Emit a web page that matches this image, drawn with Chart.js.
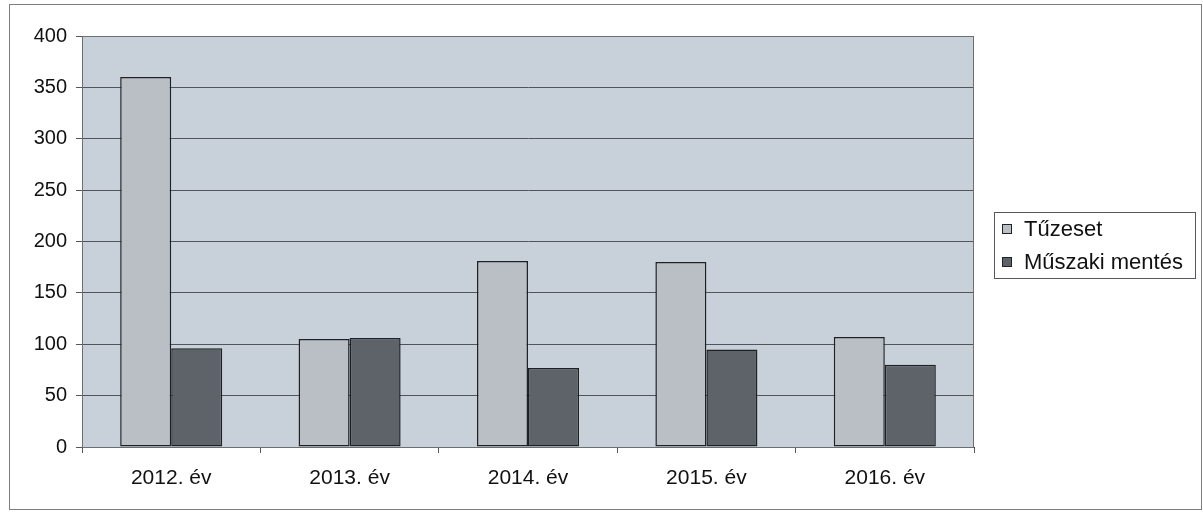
<!DOCTYPE html>
<html>
<head>
<meta charset="utf-8">
<script src="https://cdn.jsdelivr.net/npm/chart.js@4.4.1/dist/chart.umd.min.js"></script>
<style>
  html, body { margin: 0; padding: 0; background: #ffffff; }
  #wrap { position: relative; width: 1203px; height: 513px; }
  canvas { display: block; }
</style>
</head>
<body>
<div id="wrap"><canvas id="c" width="1203" height="513"></canvas></div>
<script>
const categories = ["2012. év", "2013. év", "2014. év", "2015. év", "2016. év"];
const tuzeset = [360, 105, 181, 180, 107];
const muszakiMentes = [96, 106, 77, 95, 80];
const seriesNames = ["Tűzeset", "Műszaki mentés"];
const seriesColors = ["#b9bfc4", "#5d6368"];
const yTicks = [0, 50, 100, 150, 200, 250, 300, 350, 400];

const FONT = "'Liberation Sans', Arial, sans-serif";

const decor = {
  id: 'decor',
  beforeDraw(chart) {
    const ctx = chart.ctx, a = chart.chartArea;
    ctx.save();
    ctx.fillStyle = '#ffffff';
    ctx.fillRect(0, 0, chart.width, chart.height);
    ctx.fillStyle = '#c8d0d9';
    ctx.fillRect(a.left, a.top, a.right - a.left, a.bottom - a.top);
    ctx.restore();
  },
  afterDraw(chart) {
    const ctx = chart.ctx, a = chart.chartArea;
    ctx.save();
    ctx.strokeStyle = '#6a6f74';
    ctx.lineWidth = 1;
    ctx.strokeRect(a.left + 0.5, a.top + 0.5, a.right - a.left - 1, a.bottom - a.top);
    ctx.strokeStyle = '#7a7e82';
    ctx.strokeRect(9.5, 4.5, 1192, 505);
    const lx = 994, ly = 212, lw = 201, lh = 66;
    ctx.fillStyle = '#ffffff';
    ctx.fillRect(lx, ly, lw, lh);
    ctx.strokeStyle = '#55595d';
    ctx.strokeRect(lx + 0.5, ly + 0.5, lw, lh);
    ctx.font = '22px ' + FONT;
    ctx.textBaseline = 'middle';
    ctx.textAlign = 'left';
    const rows = [229, 262];
    chart.data.datasets.forEach((ds, i) => {
      const y = rows[i];
      ctx.fillStyle = ds.backgroundColor;
      ctx.fillRect(1002.5, y - 4.5, 9, 9);
      ctx.strokeStyle = '#222';
      ctx.strokeRect(1002.5, y - 4.5, 9, 9);
      ctx.fillStyle = '#111';
      ctx.fillText(ds.label, 1024, y + 1);
    });
    ctx.restore();
  }
};

new Chart(document.getElementById('c'), {
  type: 'bar',
  data: {
    labels: categories,
    datasets: [
      { label: seriesNames[0], data: tuzeset, backgroundColor: seriesColors[0], borderColor: '#1e2124', borderWidth: 1.5, borderSkipped: false },
      { label: seriesNames[1], data: muszakiMentes, backgroundColor: seriesColors[1], borderColor: '#1e2124', borderWidth: 1.5, borderSkipped: false }
    ]
  },
  options: {
    responsive: false,
    animation: false,
    devicePixelRatio: 1,
    layout: { padding: { left: 0, top: 36, right: 229, bottom: 0 } },
    datasets: { bar: { categoryPercentage: 0.572, barPercentage: 1.0 } },
    plugins: { legend: { display: false }, tooltip: { enabled: false } },
    scales: {
      x: {
        afterFit(s) { s.height = 66; },
        grid: { offset: true, drawOnChartArea: false, color: '#555a5e', tickLength: 6, lineWidth: 1 },
        border: { display: true, color: '#3a3e42', width: 1 },
        ticks: { color: '#111', font: { family: FONT, size: 21 }, padding: 13 }
      },
      y: {
        min: 0, max: 400,
        afterFit(s) { s.width = 82; },
        afterBuildTicks(s) { s.ticks = yTicks.map(v => ({ value: v })); },
        grid: { color: '#4f555b', tickLength: 6, lineWidth: 1 },
        border: { display: true, color: '#3a3e42', width: 1 },
        ticks: { color: '#111', font: { family: FONT, size: 20 }, padding: 9, stepSize: 50 }
      }
    }
  },
  plugins: [decor]
});
</script>
</body>
</html>
